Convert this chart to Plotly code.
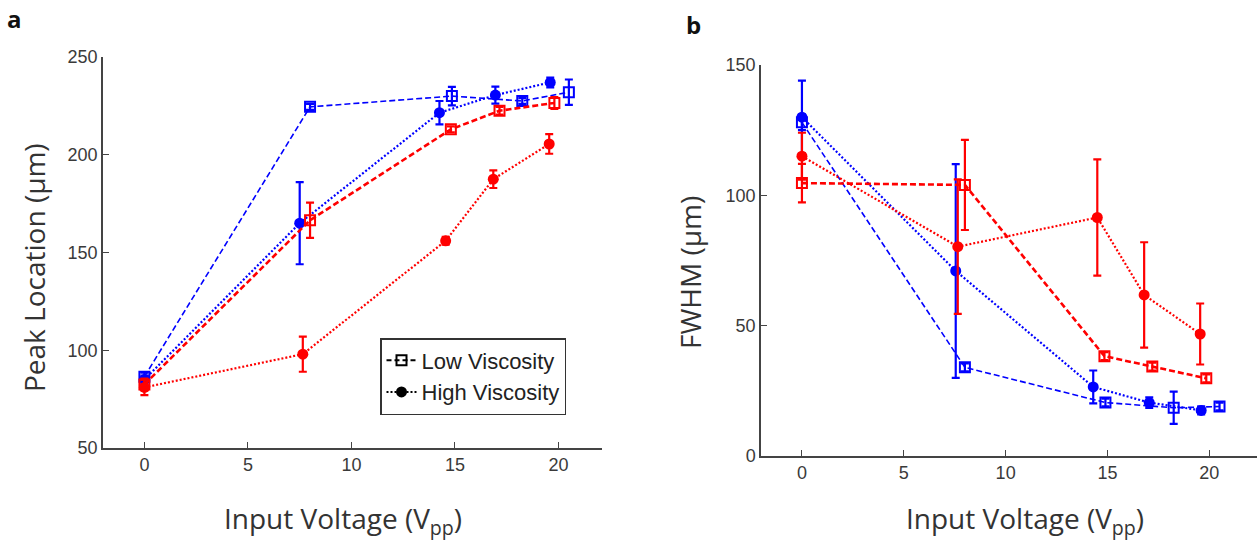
import plotly.graph_objects as go

# ---------------- data ----------------
# Panel a: Peak Location (µm)
a_low_blue_x = [0, 8.0, 14.85, 18.25, 20.5]
a_low_blue_y = [86.5, 224.5, 230, 227.5, 232]
a_low_blue_err = [2, 1.5, 4.7, 1.5, 6.5]

a_high_blue_x = [0, 7.5, 14.25, 16.95, 19.6]
a_high_blue_y = [85, 165, 221.5, 230.5, 237]
a_high_blue_err = [2, 21, 6, 4.3, 2.5]

a_low_red_x = [0, 8.0, 14.8, 17.15, 19.8]
a_low_red_y = [82.5, 166.5, 213, 222.5, 226.5]
a_low_red_err = [3, 9, 1.5, 2, 3]

a_high_red_x = [0, 7.65, 14.55, 16.85, 19.55]
a_high_red_y = [81, 98, 156, 187.5, 205.5]
a_high_red_err = [4, 9, 2, 4.5, 5]

# Panel b: FWHM (µm)
b_low_blue_x = [0, 8.0, 14.9, 18.25, 20.5]
b_low_blue_y = [128, 34, 20.5, 18.5, 19]
b_low_blue_err = [3, 1.5, 1.5, 6.2, 1.5]

b_high_blue_x = [0, 7.55, 14.3, 17.05, 19.6]
b_high_blue_y = [130, 71, 26.5, 20.5, 17.5]
b_high_blue_err = [14, 41, 6.3, 2, 1.5]

b_low_red_x = [0, 8.0, 14.85, 17.2, 19.85]
b_low_red_y = [104.7, 104, 38.3, 34.3, 29.8]
b_low_red_err = [7.4, 17.3, 1.5, 1.5, 1.5]

b_high_red_x = [0, 7.65, 14.5, 16.8, 19.55]
b_high_red_y = [115, 80.3, 91.5, 61.8, 46.8]
b_high_red_err = [9, 25.8, 22.3, 20.2, 11.7]

x_ticks = [0, 5, 10, 15, 20]
a_y_ticks = [50, 100, 150, 200, 250]
b_y_ticks = [0, 50, 100, 150]
legend_names = ["Low Viscosity", "High Viscosity"]

BLUE = "#0000FF"
RED = "#FF0000"

fig = go.Figure()


def add_series(x, y, err, color, kind, xa, ya, lw):
    if kind == "low":
        dash = "6px,3px"
        marker = dict(symbol="square-open", size=10, color=color, line=dict(width=2, color=color))
    else:
        dash = "2px,2px"
        marker = dict(symbol="circle", size=11, color=color)
    fig.add_trace(go.Scatter(
        x=x, y=y, mode="lines+markers",
        line=dict(color=color, width=lw, dash=dash),
        marker=marker,
        error_y=dict(type="data", array=err, visible=True, color=color, thickness=2.2, width=4),
        xaxis=xa, yaxis=ya, showlegend=False, hoverinfo="skip",
    ))


# panel a
add_series(a_low_blue_x, a_low_blue_y, a_low_blue_err, BLUE, "low", "x", "y", 1.6)
add_series(a_high_blue_x, a_high_blue_y, a_high_blue_err, BLUE, "high", "x", "y", 2.2)
add_series(a_low_red_x, a_low_red_y, a_low_red_err, RED, "low", "x", "y", 2.6)
add_series(a_high_red_x, a_high_red_y, a_high_red_err, RED, "high", "x", "y", 2.2)

# panel b
add_series(b_low_blue_x, b_low_blue_y, b_low_blue_err, BLUE, "low", "x2", "y2", 1.6)
add_series(b_high_blue_x, b_high_blue_y, b_high_blue_err, BLUE, "high", "x2", "y2", 2.2)
add_series(b_low_red_x, b_low_red_y, b_low_red_err, RED, "low", "x2", "y2", 2.6)
add_series(b_high_red_x, b_high_red_y, b_high_red_err, RED, "high", "x2", "y2", 2.2)

# legend entries (black samples)
fig.add_trace(go.Scatter(
    x=[None], y=[None], mode="lines+markers", name=legend_names[0],
    line=dict(color="black", width=2, dash="5px,3px"),
    marker=dict(symbol="square-open", size=10, color="black", line=dict(width=2, color="black")),
    xaxis="x", yaxis="y"))
fig.add_trace(go.Scatter(
    x=[None], y=[None], mode="lines+markers", name=legend_names[1],
    line=dict(color="black", width=2, dash="2px,2px"),
    marker=dict(symbol="circle", size=11, color="black"),
    xaxis="x", yaxis="y"))

H = 543
W = 1257
tick_font = dict(family="Liberation Sans, Arial", size=18, color="#3a3a3a")
axis_common = dict(
    showline=True, linecolor="#444444", linewidth=1.5,
    ticks="inside", ticklen=6, tickwidth=1.2, tickcolor="#444444",
    showgrid=False, zeroline=False, tickfont=tick_font, mirror=False,
    automargin=False,
)

fig.update_layout(
    width=W, height=H,
    margin=dict(l=0, r=0, t=0, b=0, autoexpand=False),
    paper_bgcolor="white", plot_bgcolor="white",
    xaxis=dict(domain=[103 / W, 602 / W], range=[-2, 22.1], tickvals=x_ticks, anchor="y", **axis_common),
    yaxis=dict(domain=[1 - 448 / H, 1 - 57 / H], range=[50, 250], tickvals=a_y_ticks, anchor="x", **axis_common),
    xaxis2=dict(domain=[761 / W, 1.0], range=[-2.01, 22.34], tickvals=x_ticks, anchor="y2", **axis_common),
    yaxis2=dict(domain=[1 - 456 / H, 1 - 65 / H], range=[0, 150], tickvals=b_y_ticks, anchor="x2", **axis_common),
    legend=dict(
        x=380 / W, y=1 - 338 / H, xanchor="left", yanchor="top",
        bordercolor="#333333", borderwidth=1.5, bgcolor="white",
        font=dict(family="Liberation Sans, Arial", size=22, color="#222222"),
        tracegroupgap=0, itemwidth=30,
    ),
    showlegend=True,
)

title_font = dict(family="Open Sans", size=28, color="#333333")
annotations = [
    dict(text="Input Voltage (V<sub>pp</sub>)", x=343 / W, y=1 - 520 / H, xref="paper", yref="paper",
         showarrow=False, font=title_font, xanchor="center", yanchor="middle"),
    dict(text="Input Voltage (V<sub>pp</sub>)", x=1025 / W, y=1 - 520 / H, xref="paper", yref="paper",
         showarrow=False, font=title_font, xanchor="center", yanchor="middle"),
    dict(text="Peak Location (µm)", x=34 / W, y=1 - 268 / H, xref="paper", yref="paper", textangle=-90,
         showarrow=False, font=title_font, xanchor="center", yanchor="middle"),
    dict(text="FWHM (µm)", x=690 / W, y=1 - 273 / H, xref="paper", yref="paper", textangle=-90,
         showarrow=False, font=title_font, xanchor="center", yanchor="middle"),
    dict(text="<b>a</b>", x=14 / W, y=1 - 18 / H, xref="paper", yref="paper",
         showarrow=False, font=dict(family="Open Sans", size=24, color="#111111"), xanchor="center", yanchor="middle"),
    dict(text="<b>b</b>", x=693 / W, y=1 - 24 / H, xref="paper", yref="paper",
         showarrow=False, font=dict(family="Open Sans", size=24, color="#111111"), xanchor="center", yanchor="middle"),
]
fig.update_layout(annotations=annotations)

fig.write_html(
    "out.html",
    config={"displayModeBar": False},
    post_script="document.body.style.margin='0';document.body.style.overflow='hidden';",
)
